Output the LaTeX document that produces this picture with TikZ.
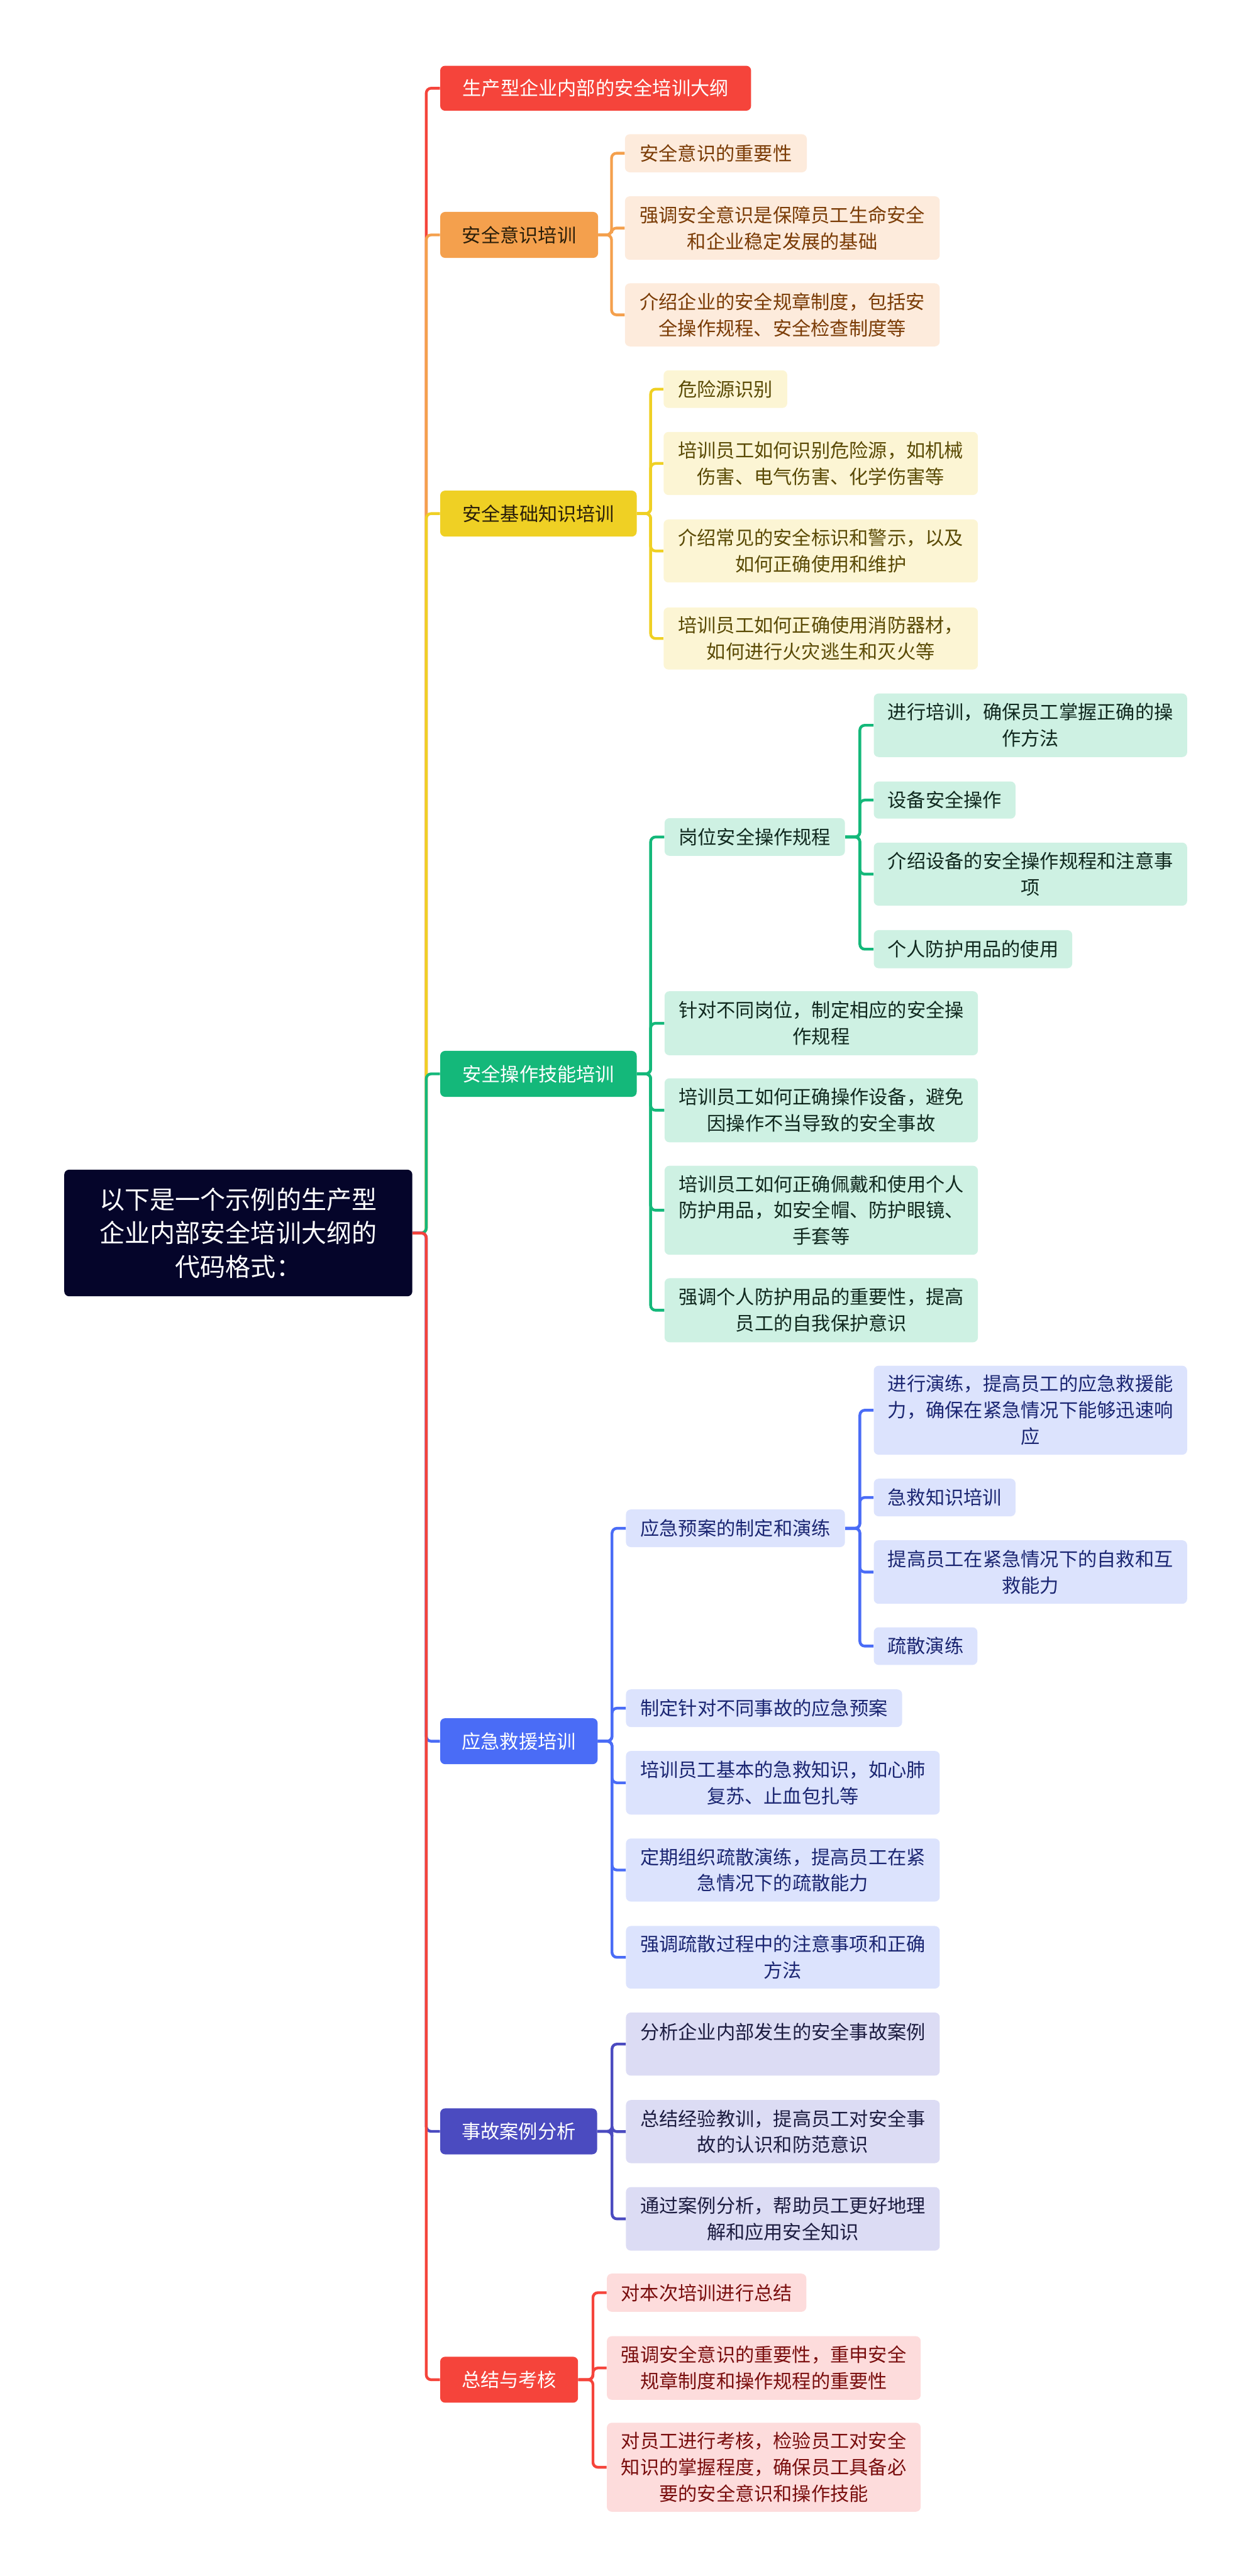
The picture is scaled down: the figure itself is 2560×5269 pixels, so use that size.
\documentclass[tikz,border=0pt]{standalone}
\usepackage{fontspec}
\setmainfont{Noto Sans CJK SC}

\definecolor{rootC}{HTML}{05052A}
\definecolor{redC}{HTML}{F5443B}
\definecolor{orgC}{HTML}{F4A04D}
\definecolor{ylwC}{HTML}{EFD024}
\definecolor{grnC}{HTML}{14B87A}
\definecolor{bluC}{HTML}{4A6CF6}
\definecolor{indC}{HTML}{4B4BC0}
\definecolor{orgL}{HTML}{FDEBDC}
\definecolor{ylwL}{HTML}{FCF5D4}
\definecolor{grnL}{HTML}{CEF1E3}
\definecolor{bluL}{HTML}{DCE3FD}
\definecolor{indL}{HTML}{DCDCF4}
\definecolor{redL}{HTML}{FDDCDC}
\definecolor{orgT}{HTML}{7A3B05}
\definecolor{ylwT}{HTML}{5A4A05}
\definecolor{grnT}{HTML}{10281E}
\definecolor{bluT}{HTML}{1B2672}
\definecolor{indT}{HTML}{1C1C40}
\definecolor{redT}{HTML}{7A0E0E}
\definecolor{darkT}{HTML}{2A1E0A}

\tikzset{
  wh/.style 2 args={minimum width=#1*0.15mm, minimum height=#2*0.15mm},
  box/.style={rectangle, rounded corners=1.5mm, inner sep=0pt, anchor=north west, align=center},
  rootbox/.style={box, fill=rootC, text=white, font=\fontsize{22}{29.4}\selectfont},
  topic/.style 2 args={box, fill=#1, text=#2, font=\fontsize{16.6}{23}\selectfont},
  leaf/.style 2 args={box, fill=#1, text=#2, font=\fontsize{16.6}{23}\selectfont},
  lnk/.style={draw=#1, line width=0.85mm, rounded corners=1.5mm}
}

\begin{document}
\begin{tikzpicture}[x=0.15mm, y=-0.15mm]

    \useasboundingbox (0,0) rectangle (2560,5269);

    % Root and main topics
    \node[rootbox, wh={712}{259}] (root) at (131,2392) {以下是一个示例的生产型\\企业内部安全培训大纲的\\代码格式：};
    \node[topic={redC}{white}, wh={636}{92}] (t1) at (900,134) {生产型企业内部的安全培训大纲};
    \node[topic={orgC}{darkT}, wh={323}{94}] (t2) at (900,433) {安全意识培训};
    \node[topic={ylwC}{darkT}, wh={402}{94}] (t3) at (900,1003) {安全基础知识培训};
    \node[topic={grnC}{white}, wh={402}{94}] (t4) at (900,2149) {安全操作技能培训};
    \node[topic={bluC}{white}, wh={322}{94}] (t5) at (900,3514) {应急救援培训};
    \node[topic={indC}{white}, wh={321}{94}] (t6) at (900,4312) {事故案例分析};
    \node[topic={redC}{white}, wh={282}{94}] (t7) at (900,4820) {总结与考核};

    % Safety awareness
    \node[leaf={orgL}{orgT}, wh={372}{78}] (o1) at (1278,274) {安全意识的重要性};
    \node[leaf={orgL}{orgT}, wh={644}{130}] (o2) at (1278,401) {强调安全意识是保障员工生命安全\\和企业稳定发展的基础};
    \node[leaf={orgL}{orgT}, wh={644}{129}] (o3) at (1278,579) {介绍企业的安全规章制度，包括安\\全操作规程、安全检查制度等};

    % Basic knowledge
    \node[leaf={ylwL}{ylwT}, wh={253}{77}] (y1) at (1357,757) {危险源识别};
    \node[leaf={ylwL}{ylwT}, wh={643}{129}] (y2) at (1357,883) {培训员工如何识别危险源，如机械\\伤害、电气伤害、化学伤害等};
    \node[leaf={ylwL}{ylwT}, wh={643}{129}] (y3) at (1357,1062) {介绍常见的安全标识和警示，以及\\如何正确使用和维护};
    \node[leaf={ylwL}{ylwT}, wh={643}{127}] (y4) at (1357,1242) {培训员工如何正确使用消防器材，\\如何进行火灾逃生和灭火等};

    % Operating skills
    \node[leaf={grnL}{grnT}, wh={369}{77}] (g1) at (1359,1673) {岗位安全操作规程};
    \node[leaf={grnL}{grnT}, wh={641}{130}] (g11) at (1787,1418) {进行培训，确保员工掌握正确的操\\作方法};
    \node[leaf={grnL}{grnT}, wh={290}{76}] (g12) at (1787,1598) {设备安全操作};
    \node[leaf={grnL}{grnT}, wh={641}{129}] (g13) at (1787,1723) {介绍设备的安全操作规程和注意事\\项};
    \node[leaf={grnL}{grnT}, wh={406}{78}] (g14) at (1787,1902) {个人防护用品的使用};
    \node[leaf={grnL}{grnT}, wh={641}{131}] (g2) at (1359,2027) {针对不同岗位，制定相应的安全操\\作规程};
    \node[leaf={grnL}{grnT}, wh={641}{131}] (g3) at (1359,2205) {培训员工如何正确操作设备，避免\\因操作不当导致的安全事故};
    \node[leaf={grnL}{grnT}, wh={641}{182}] (g4) at (1359,2384) {培训员工如何正确佩戴和使用个人\\防护用品，如安全帽、防护眼镜、\\手套等};
    \node[leaf={grnL}{grnT}, wh={641}{131}] (g5) at (1359,2614) {强调个人防护用品的重要性，提高\\员工的自我保护意识};

    % Emergency rescue
    \node[leaf={bluL}{bluT}, wh={448}{77}] (b1) at (1280,3087) {应急预案的制定和演练};
    \node[leaf={bluL}{bluT}, wh={641}{182}] (b11) at (1787,2793) {进行演练，提高员工的应急救援能\\力，确保在紧急情况下能够迅速响\\应};
    \node[leaf={bluL}{bluT}, wh={290}{77}] (b12) at (1787,3024) {急救知识培训};
    \node[leaf={bluL}{bluT}, wh={641}{130}] (b13) at (1787,3150) {提高员工在紧急情况下的自救和互\\救能力};
    \node[leaf={bluL}{bluT}, wh={212}{77}] (b14) at (1787,3328) {疏散演练};
    \node[leaf={bluL}{bluT}, wh={565}{77}] (b2) at (1280,3455) {制定针对不同事故的应急预案};
    \node[leaf={bluL}{bluT}, wh={642}{130}] (b3) at (1280,3581) {培训员工基本的急救知识，如心肺\\复苏、止血包扎等};
    \node[leaf={bluL}{bluT}, wh={642}{129}] (b4) at (1280,3760) {定期组织疏散演练，提高员工在紧\\急情况下的疏散能力};
    \node[leaf={bluL}{bluT}, wh={642}{128}] (b5) at (1280,3939) {强调疏散过程中的注意事项和正确\\方法};

    % Case analysis
    \node[leaf={indL}{indT}, wh={642}{129}] (i1) at (1280,4116) {分析企业内部发生的安全事故案例\\\mbox{}};
    \node[leaf={indL}{indT}, wh={642}{129}] (i2) at (1280,4295) {总结经验教训，提高员工对安全事\\故的认识和防范意识};
    \node[leaf={indL}{indT}, wh={642}{130}] (i3) at (1280,4473) {通过案例分析，帮助员工更好地理\\解和应用安全知识};

    % Summary
    \node[leaf={redL}{redT}, wh={408}{78}] (r1) at (1241,4650) {对本次培训进行总结};
    \node[leaf={redL}{redT}, wh={642}{130}] (r2) at (1241,4778) {强调安全意识的重要性，重申安全\\规章制度和操作规程的重要性};
    \node[leaf={redL}{redT}, wh={642}{182}] (r3) at (1241,4955) {对员工进行考核，检验员工对安全\\知识的掌握程度，确保员工具备必\\要的安全意识和操作技能};

    % Branch lines
    \coordinate (tx) at (872,0);
    \coordinate (ox) at (1251,0);
    \coordinate (yx) at (1331,0);
    \coordinate (gx) at (1331,0);
    \coordinate (gsx) at (1759,0);
    \coordinate (bx) at (1252,0);
    \coordinate (bsx) at (1759,0);
    \coordinate (ix) at (1252,0);
    \coordinate (rx) at (1213,0);

    \draw[lnk=redC] (root.east) -- (root.east -| tx) |- (t1.west);
    \draw[lnk=orgC] (root.east) -- (root.east -| tx) |- (t2.west);
    \draw[lnk=ylwC] (root.east) -- (root.east -| tx) |- (t3.west);
    \draw[lnk=grnC] (root.east) -- (root.east -| tx) |- (t4.west);
    \draw[lnk=bluC] (root.east) -- (root.east -| tx) |- (t5.west);
    \draw[lnk=indC] (root.east) -- (root.east -| tx) |- (t6.west);
    \draw[lnk=redC] (root.east) -- (root.east -| tx) |- (t7.west);

    \foreach \c in {o1,o2,o3}
        \draw[lnk=orgC] (t2.east) -- (t2.east -| ox) |- (\c.west);
    \foreach \c in {y1,y2,y3,y4}
        \draw[lnk=ylwC] (t3.east) -- (t3.east -| yx) |- (\c.west);
    \foreach \c in {g1,g2,g3,g4,g5}
        \draw[lnk=grnC] (t4.east) -- (t4.east -| gx) |- (\c.west);
    \foreach \c in {g11,g12,g13,g14}
        \draw[lnk=grnC] (g1.east) -- (g1.east -| gsx) |- (\c.west);
    \foreach \c in {b1,b2,b3,b4,b5}
        \draw[lnk=bluC] (t5.east) -- (t5.east -| bx) |- (\c.west);
    \foreach \c in {b11,b12,b13,b14}
        \draw[lnk=bluC] (b1.east) -- (b1.east -| bsx) |- (\c.west);
    \foreach \c in {i1,i2,i3}
        \draw[lnk=indC] (t6.east) -- (t6.east -| ix) |- (\c.west);
    \foreach \c in {r1,r2,r3}
        \draw[lnk=redC] (t7.east) -- (t7.east -| rx) |- (\c.west);

\end{tikzpicture}
\end{document}
